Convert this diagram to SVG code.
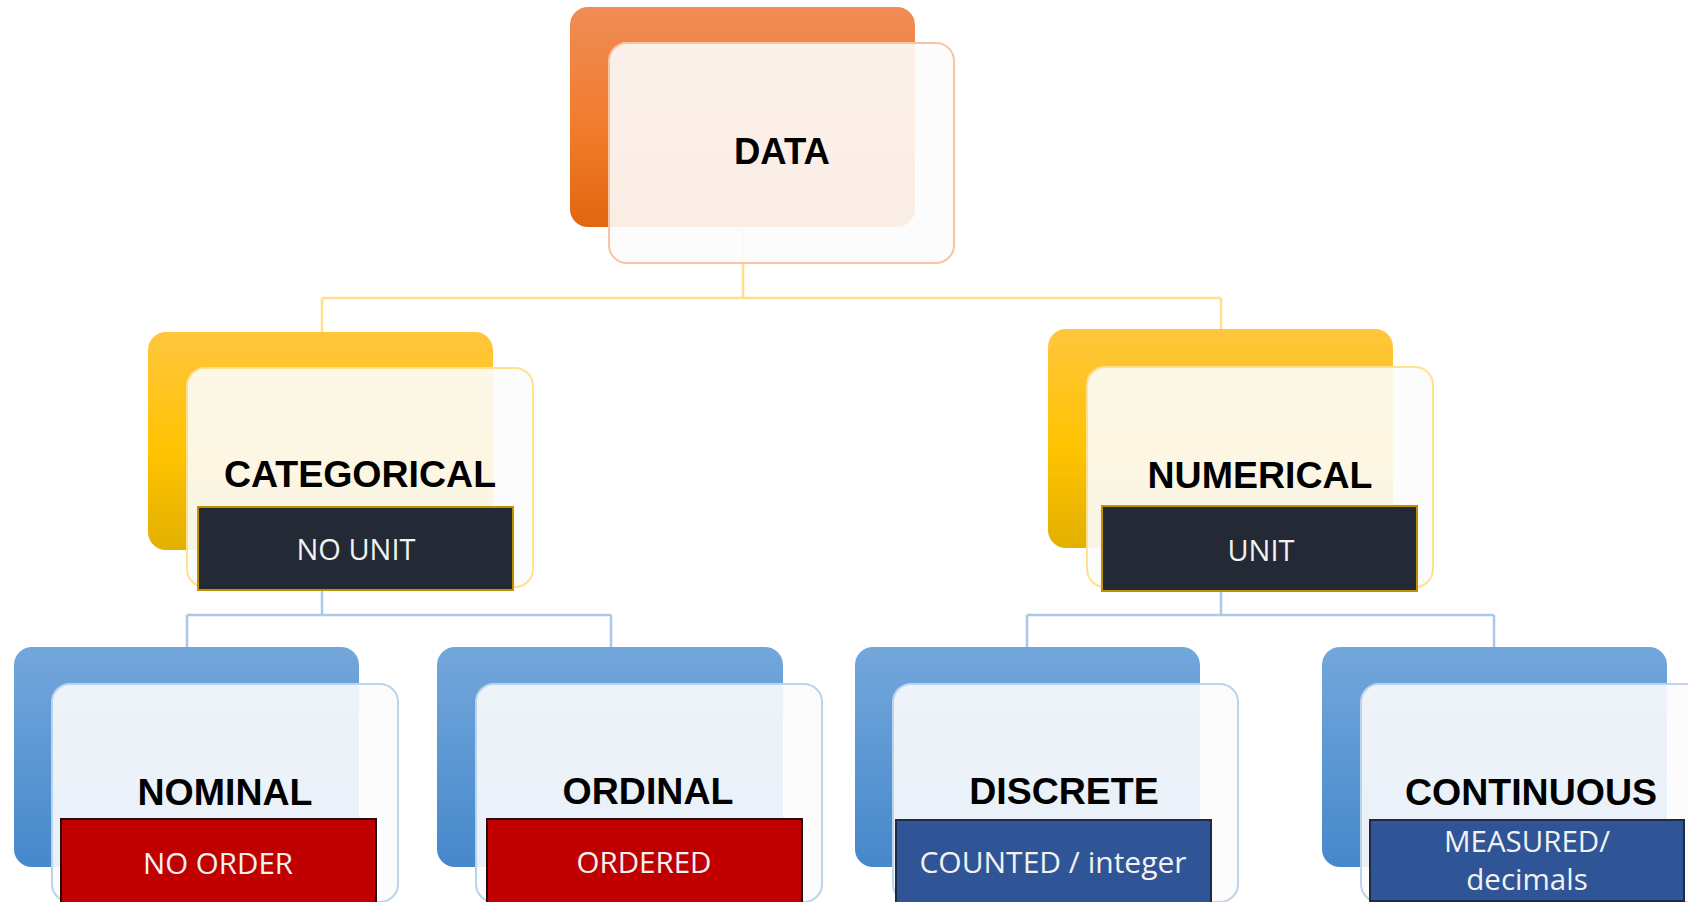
<svg xmlns="http://www.w3.org/2000/svg" width="1688" height="902" viewBox="0 0 1688 902">
<defs>
<linearGradient id="gOrange" x1="0" y1="0" x2="0" y2="1">
<stop offset="0" stop-color="#EF8C55"/><stop offset="0.55" stop-color="#F27C2C"/><stop offset="1" stop-color="#E1670F"/>
</linearGradient>
<linearGradient id="gYellow" x1="0" y1="0" x2="0" y2="1">
<stop offset="0" stop-color="#FFC63E"/><stop offset="0.55" stop-color="#FFC300"/><stop offset="1" stop-color="#E2B000"/>
</linearGradient>
<linearGradient id="gBlue" x1="0" y1="0" x2="0" y2="1">
<stop offset="0" stop-color="#73A7DC"/><stop offset="1" stop-color="#4588CB"/>
</linearGradient>
</defs>
<style>
.front{fill:#FCFCFC;fill-opacity:0.9;stroke-width:2}
.fo{stroke:#F8C4A4}
.fy{stroke:#FFE08C}
.fb{stroke:#BCD3EC}
.lbl{font-family:"Liberation Sans",Arial,sans-serif;font-weight:bold;font-size:37.5px;fill:#000;text-anchor:middle}
.sub{font-family:"Open Sans","Noto Sans",sans-serif;font-size:29px;fill:#F2F2F2;text-anchor:middle}
.dark{fill:#232A35;stroke:#BF9000;stroke-width:2}
.red{fill:#C00000;stroke:#2A0A0A;stroke-width:2}
.navy{fill:#2F5597;stroke:#1E2B45;stroke-width:2}
.cy{fill:none;stroke:#FFE08C;stroke-width:2.5}
.cb{fill:none;stroke:#A9C8EA;stroke-width:2.5}
</style>
<g id="connectors">
<path class="cy" d="M743 227 V298 M322 298 H1221 M322 298 V332 M1221 298 V329"/>
<path class="cb" d="M322 550 V615 M187 615 H611 M187 615 V647 M611 615 V647"/>
<path class="cb" d="M1221 548 V615 M1027 615 H1494 M1027 615 V647 M1494 615 V647"/>
</g>
<g id="data">
<rect x="570" y="7" width="345" height="220" rx="18" fill="url(#gOrange)"/>
<rect class="front fo" x="609" y="43" width="345" height="220" rx="18"/>
<text class="lbl" x="782" y="164" style="font-size:36.5px">DATA</text>
</g>
<g id="categorical">
<rect x="148" y="332" width="345" height="218" rx="18" fill="url(#gYellow)"/>
<rect class="front fy" x="187" y="368" width="346" height="219" rx="18"/>
<text class="lbl" x="360" y="487">CATEGORICAL</text>
<rect class="dark" x="198" y="507" width="315" height="83"/>
<text class="sub" x="356" y="560">NO UNIT</text>
</g>
<g id="numerical">
<rect x="1048" y="329" width="345" height="219" rx="18" fill="url(#gYellow)"/>
<rect class="front fy" x="1087" y="367" width="346" height="220" rx="18"/>
<text class="lbl" x="1260" y="488">NUMERICAL</text>
<rect class="dark" x="1102" y="506" width="315" height="85"/>
<text class="sub" x="1261" y="561">UNIT</text>
</g>
<g id="nominal">
<rect x="14" y="647" width="345" height="220" rx="18" fill="url(#gBlue)"/>
<rect class="front fb" x="52" y="684" width="346" height="218" rx="18"/>
<text class="lbl" x="225" y="805">NOMINAL</text>
<rect class="red" x="61" y="819" width="315" height="84"/>
<text class="sub" x="218" y="874" style="font-size:29.5px">NO ORDER</text>
</g>
<g id="ordinal">
<rect x="437" y="647" width="346" height="220" rx="18" fill="url(#gBlue)"/>
<rect class="front fb" x="476" y="684" width="346" height="218" rx="18"/>
<text class="lbl" x="648" y="804">ORDINAL</text>
<rect class="red" x="487" y="819" width="315" height="84"/>
<text class="sub" x="644" y="873" style="font-size:29.5px">ORDERED</text>
</g>
<g id="discrete">
<rect x="855" y="647" width="345" height="220" rx="18" fill="url(#gBlue)"/>
<rect class="front fb" x="893" y="684" width="345" height="218" rx="18"/>
<text class="lbl" x="1064" y="804">DISCRETE</text>
<rect class="navy" x="896" y="820" width="315" height="84"/>
<text class="sub" x="1053" y="873" style="font-size:30px">COUNTED / integer</text>
</g>
<g id="continuous">
<rect x="1322" y="647" width="345" height="220" rx="18" fill="url(#gBlue)"/>
<rect class="front fb" x="1361" y="684" width="346" height="218" rx="18"/>
<text class="lbl" x="1531" y="805">CONTINUOUS</text>
<rect class="navy" x="1370" y="820" width="314" height="81"/>
<text class="sub" x="1527" y="852" style="font-size:29.5px">MEASURED/</text>
<text class="sub" x="1527" y="890" style="font-size:29.5px">decimals</text>
</g>
</svg>
